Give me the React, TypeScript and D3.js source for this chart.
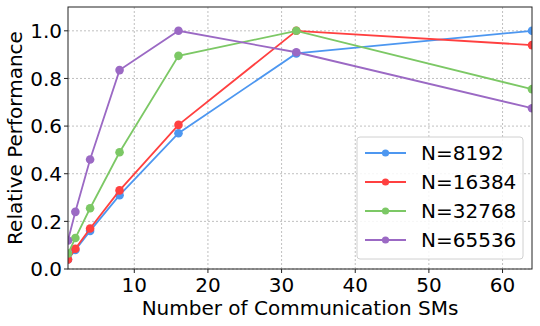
import React from "react";
import * as d3 from "d3";

const sms = [1, 2, 4, 8, 16, 32, 64];
const seriesNames = ["N=8192", "N=16384", "N=32768", "N=65536"];
const n8192 = [0.04, 0.08, 0.16, 0.31, 0.57, 0.905, 1.0];
const n16384 = [0.04, 0.085, 0.17, 0.33, 0.605, 1.0, 0.94];
const n32768 = [0.065, 0.13, 0.255, 0.49, 0.895, 1.0, 0.755];
const n65536 = [0.12, 0.24, 0.46, 0.835, 1.0, 0.91, 0.675];
const seriesValues = [n8192, n16384, n32768, n65536];
const colors = ["#4d97f0", "#ff4040", "#7cc865", "#9b69c4"];
const xTicks = [10, 20, 30, 40, 50, 60];
const yTicks = [0, 0.2, 0.4, 0.6, 0.8, 1.0];

export default function App() {
  const W = 540, H = 326;
  const L = 68, R = 532, T = 7, B = 269;
  const x = d3.scaleLinear().domain([1, 64]).range([L, R]);
  const y = d3.scaleLinear().domain([0, 1.1]).range([B, T]);
  const line = d3.line<number>().x((_, i) => x(sms[i])).y((d) => y(d));
  const font = "DejaVu Sans, sans-serif";
  return (
    <svg width={W} height={H} style={{ position: "absolute", left: 0, top: 0 }} fontFamily={font}>
      <defs>
        <clipPath id="plot">
          <rect x={L} y={T} width={R - L} height={B - T} />
        </clipPath>
      </defs>
      <rect x={0} y={0} width={W} height={H} fill="white" />
      {xTicks.map((t) => (
        <line key={"gx" + t} x1={x(t)} x2={x(t)} y1={T} y2={B} stroke="#b0b0b0" strokeWidth={0.8} strokeDasharray="2,2" />
      ))}
      {yTicks.map((t) => (
        <line key={"gy" + t} x1={L} x2={R} y1={y(t)} y2={y(t)} stroke="#b0b0b0" strokeWidth={0.8} strokeDasharray="2,2" />
      ))}
      <g clipPath="url(#plot)">
        {seriesValues.map((vals, si) => (
          <g key={si}>
            <path d={line(vals) || ""} fill="none" stroke={colors[si]} strokeWidth={1.8} />
            {vals.map((v, i) => (
              <circle key={i} cx={x(sms[i])} cy={y(v)} r={4.3} fill={colors[si]} />
            ))}
          </g>
        ))}
      </g>
      <rect x={L} y={T} width={R - L} height={B - T} fill="none" stroke="#222" strokeWidth={1} />
      {xTicks.map((t) => (
        <g key={"xt" + t}>
          <line x1={x(t)} x2={x(t)} y1={B} y2={B + 4} stroke="#222" />
          <text x={x(t)} y={B + 23} textAnchor="middle" fontSize={20} fill="#000">{t}</text>
        </g>
      ))}
      {yTicks.map((t) => (
        <g key={"yt" + t}>
          <line x1={L - 4} x2={L} y1={y(t)} y2={y(t)} stroke="#222" />
          <text x={L - 6} y={y(t) + 7.3} textAnchor="end" fontSize={20} fill="#000">{t.toFixed(1)}</text>
        </g>
      ))}
      <text x={(L + R) / 2} y={315} textAnchor="middle" fontSize={20} fill="#000">Number of Communication SMs</text>
      <text transform={`translate(22,${(T + B) / 2}) rotate(-90)`} textAnchor="middle" fontSize={20} fill="#000">Relative Performance</text>
      <g>
        <rect x={357} y={137} width={166} height={122} rx={3} fill="white" fillOpacity={0.85} stroke="#d0d0d0" />
        {seriesNames.map((name, i) => {
          const yy = 153 + i * 29;
          return (
            <g key={name}>
              <line x1={365} x2={406} y1={yy} y2={yy} stroke={colors[i]} strokeWidth={1.8} />
              <circle cx={385.5} cy={yy} r={3.6} fill={colors[i]} />
              <text x={421} y={yy + 7.3} fontSize={20} fill="#000">{name}</text>
            </g>
          );
        })}
      </g>
    </svg>
  );
}
